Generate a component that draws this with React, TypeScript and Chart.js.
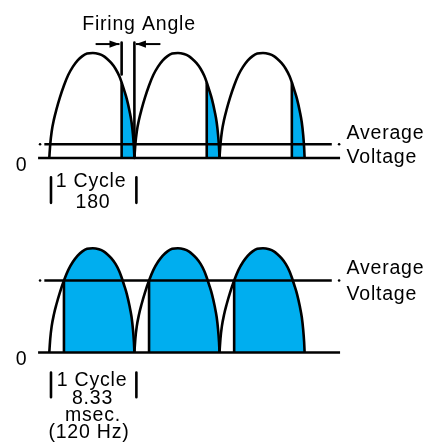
import React, { useEffect, useRef } from 'react';
import { Chart, registerables } from 'chart.js';

Chart.register(...registerables);

// ---- data ----
// one half-wave: angle (degrees) -> voltage relative to the peak
const humpAngles = [0, 2, 5, 10, 15, 22, 31, 40, 50, 60, 70, 80, 92, 105, 115, 122, 131, 140, 148, 153, 158, 164, 170, 174, 177, 179, 180];
const humpValues = [0, 0.13, 0.25, 0.37, 0.46, 0.57, 0.69, 0.79, 0.87, 0.93, 0.97, 0.995, 1.0, 0.99, 0.97, 0.945, 0.905, 0.85, 0.78, 0.72, 0.65, 0.56, 0.44, 0.34, 0.22, 0.1, 0];
// start angle of each rectified half-wave
const halfWaveStarts = [0, 180, 360];
// firing angles (degrees) and average voltage levels
const topFiringAngle = 153;
const bottomFiringAngle = 31;
const topAverage = 0.13;
const bottomAverage = 0.69;
// extents of the reference lines (degrees)
const baselineSpan = [-23.7, 615];
const averageSpan = [-10.5, 597.5];
const averageDots = [-19.5, 613];
// "1 Cycle" markers (degrees) and their vertical extent (relative voltage)
const cycleMarkers = [3.6, 184.2];
const topCycleMarkerSpan = [-0.184, -0.428];
const bottomCycleMarkerSpan = [-0.193, -0.43];
// firing-angle annotation (top panel)
const firingTickTop = 1.1;
const firingTickBottom = 0.796;
const arrowLevel = 1.085;
const arrowTails = [98, 235];
const arrowTips = [148.5, 183.2];

// labels
const firingLabel = 'Firing Angle';
const zeroLabel = '0';
const averageLabel = ['Average', 'Voltage'];
const topCycleLabel = ['1 Cycle', '180'];
const bottomCycleLabel = ['1 Cycle', '8.33', 'msec.', '(120 Hz)'];

const BLUE = '#00aeef';
const BLACK = '#000000';
const LW = 2.6;
const FONT = '19.5px "Liberation Sans", Arial, sans-serif';

function pts(xs: number[], ys: number[]) {
  return xs.map((x, i) => ({ x, y: ys[i] }));
}

function lineDs(data: any[], order = 1, extra: any = {}) {
  return {
    data,
    borderColor: BLACK,
    borderWidth: LW,
    fill: false,
    pointRadius: 0,
    order,
    clip: false,
    ...extra,
  };
}

function panelDatasets(firing: number, average: number, markerSpan: number[], isTop: boolean) {
  const ds: any[] = [];
  const fv = humpValues[humpAngles.indexOf(firing)];
  halfWaveStarts.forEach((start) => {
    const all = humpAngles.map((a, i) => ({ x: start + a, y: humpValues[i] }));
    const conducting = all.filter((_, i) => humpAngles[i] >= firing);
    ds.push({
      data: conducting,
      fill: { value: 0 },
      backgroundColor: BLUE,
      borderColor: 'rgba(0,0,0,0)',
      borderWidth: 0,
      pointRadius: 0,
      cubicInterpolationMode: 'monotone',
      order: 6,
      clip: false,
    });
    ds.push(lineDs(all, 2, { cubicInterpolationMode: 'monotone' }));
    ds.push(lineDs(pts([start + firing, start + firing], [0, fv]), 1));
  });
  ds.push(lineDs(pts(baselineSpan, [0, 0]), 1));
  ds.push(lineDs(pts(averageSpan, [average, average]), 1));
  ds.push({
    data: pts(averageDots, [average, average]),
    showLine: false,
    pointRadius: 1.3,
    pointBorderWidth: 0,
    pointBackgroundColor: BLACK,
    order: 1,
    clip: false,
  });
  cycleMarkers.forEach((m) => {
    ds.push(lineDs(pts([m, m], markerSpan), 1));
  });
  if (isTop) {
    ds.push(lineDs(pts([firing, firing], [firingTickTop, firingTickBottom]), 1));
    ds.push(lineDs(pts([180, 180], [firingTickTop, 0]), 1));
    arrowTails.forEach((t, i) => {
      ds.push(lineDs(pts([t, arrowTips[i]], [arrowLevel, arrowLevel]), 1, { borderWidth: 2 }));
    });
  }
  return ds;
}

type TextItem = { text: string; x: number; y: number; align: CanvasTextAlign };

function makePlugin(texts: TextItem[], arrows: boolean) {
  return {
    id: 'annot',
    afterDraw(chart: any) {
      const ctx: CanvasRenderingContext2D = chart.ctx;
      const xs = chart.scales.x;
      const ys = chart.scales.y;
      ctx.save();
      if (arrows) {
        ctx.fillStyle = BLACK;
        arrowTails.forEach((t, i) => {
          const tx = xs.getPixelForValue(arrowTips[i]);
          const fx = xs.getPixelForValue(t);
          const y = ys.getPixelForValue(arrowLevel);
          const dir = tx > fx ? 1 : -1;
          const len = 10;
          const hw = 3.6;
          ctx.beginPath();
          ctx.moveTo(tx, y);
          ctx.lineTo(tx - dir * len, y - hw);
          ctx.lineTo(tx - dir * len, y + hw);
          ctx.closePath();
          ctx.fill();
        });
      }
      ctx.font = FONT;
      ctx.fillStyle = BLACK;
      ctx.textBaseline = 'alphabetic';
      try {
        (ctx as any).letterSpacing = '0.8px';
      } catch (e) {}
      texts.forEach((t) => {
        ctx.textAlign = t.align;
        ctx.fillText(t.text, t.x, t.y);
      });
      ctx.restore();
    },
  };
}

function makeConfig(datasets: any[], yMin: number, yMax: number, plugin: any): any {
  return {
    type: 'line',
    data: { datasets },
    options: {
      animation: false,
      responsive: false,
      maintainAspectRatio: false,
      devicePixelRatio: 1,
      events: [],
      layout: { padding: 0 },
      plugins: {
        legend: { display: false },
        tooltip: { enabled: false },
        title: { display: false },
      },
      elements: {
        point: { radius: 0, hoverRadius: 0 },
        line: { borderCapStyle: 'butt', borderJoinStyle: 'round' },
      },
      scales: {
        x: { type: 'linear', display: false, min: -101.5, max: 806.7 },
        y: { type: 'linear', display: false, min: yMin, max: yMax },
      },
    },
    plugins: [plugin],
  };
}

export default function App() {
  const topRef = useRef<HTMLCanvasElement>(null);
  const botRef = useRef<HTMLCanvasElement>(null);

  useEffect(() => {
    const topTexts: TextItem[] = [
      { text: firingLabel, x: 139, y: 29.5, align: 'center' },
      { text: zeroLabel, x: 21.5, y: 170.5, align: 'center' },
      { text: averageLabel[0], x: 346.5, y: 138.5, align: 'left' },
      { text: averageLabel[1], x: 346.5, y: 163, align: 'left' },
      { text: topCycleLabel[0], x: 91, y: 186.5, align: 'center' },
      { text: topCycleLabel[1], x: 93, y: 207.5, align: 'center' },
    ];
    const botTexts: TextItem[] = [
      { text: zeroLabel, x: 21.5, y: 144, align: 'center' },
      { text: averageLabel[0], x: 346.5, y: 53, align: 'left' },
      { text: averageLabel[1], x: 346.5, y: 79, align: 'left' },
      { text: bottomCycleLabel[0], x: 92, y: 164.7, align: 'center' },
      { text: bottomCycleLabel[1], x: 92.5, y: 182.5, align: 'center' },
      { text: bottomCycleLabel[2], x: 93, y: 200, align: 'center' },
      { text: bottomCycleLabel[3], x: 89, y: 217, align: 'center' },
    ];
    const c1 = new Chart(
      topRef.current as HTMLCanvasElement,
      makeConfig(panelDatasets(topFiringAngle, topAverage, topCycleMarkerSpan, true), -0.5885, 1.4925, makePlugin(topTexts, true))
    );
    const c2 = new Chart(
      botRef.current as HTMLCanvasElement,
      makeConfig(panelDatasets(bottomFiringAngle, bottomAverage, bottomCycleMarkerSpan, false), -0.857, 1.2495, makePlugin(botTexts, false))
    );
    return () => {
      c1.destroy();
      c2.destroy();
    };
  }, []);

  return (
    <div style={{ position: 'absolute', left: 0, top: 0, width: 432, height: 443, background: '#ffffff' }}>
      <canvas ref={topRef} width={432} height={221} style={{ display: 'block', width: 432, height: 221 }} />
      <canvas ref={botRef} width={432} height={222} style={{ display: 'block', width: 432, height: 222 }} />
    </div>
  );
}
